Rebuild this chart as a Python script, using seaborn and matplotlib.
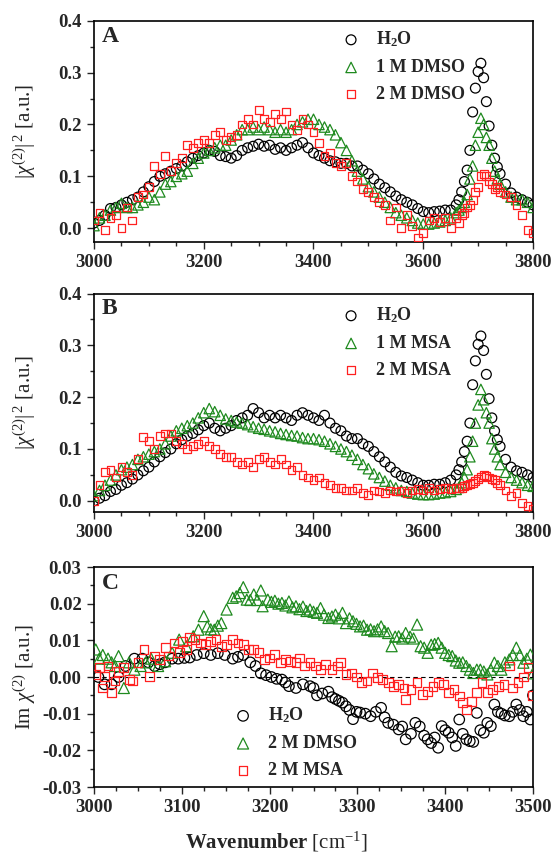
import numpy as np
import matplotlib
matplotlib.use("Agg")
import matplotlib.pyplot as plt
import seaborn as sns
from matplotlib.ticker import MultipleLocator, FormatStrFormatter

# ---------------- data: panels A and B (|chi2|^2) ----------------
wn_ab = list(range(3000, 3670, 10)) + [3665, 3670, 3675, 3680, 3685, 3690, 3695, 3700,
                                      3705, 3710, 3715, 3720, 3725, 3730, 3735, 3740,
                                      3750, 3760, 3770, 3780, 3790, 3800]

a_h2o = [0.010, 0.015, 0.025, 0.038, 0.040, 0.045, 0.050, 0.055, 0.060, 0.070,
         0.080, 0.090, 0.100, 0.105, 0.110, 0.115, 0.120, 0.128, 0.135, 0.140,
         0.145, 0.150, 0.148, 0.140, 0.138, 0.135, 0.140, 0.150, 0.155, 0.158,
         0.162, 0.158, 0.160, 0.152, 0.155, 0.150, 0.155, 0.160, 0.165, 0.155,
         0.145, 0.140, 0.135, 0.130, 0.128, 0.125, 0.125, 0.120, 0.120, 0.112,
         0.105, 0.095, 0.085, 0.078, 0.070, 0.062, 0.055, 0.050, 0.045, 0.038,
         0.032, 0.030, 0.032, 0.033, 0.035, 0.035, 0.045,
         0.055, 0.070, 0.090, 0.112, 0.150, 0.224, 0.270, 0.302, 0.318, 0.290,
         0.244, 0.197, 0.160, 0.135, 0.118, 0.105,
         0.085, 0.068, 0.060, 0.055, 0.050, 0.045]

a_dmso1 = [0.005, 0.020, 0.025, 0.035, 0.040, 0.048, 0.040, 0.040, 0.045, 0.050,
           0.060, 0.055, 0.070, 0.085, 0.090, 0.100, 0.105, 0.110, 0.125, 0.135,
           0.145, 0.150, 0.155, 0.160, 0.160, 0.170, 0.180, 0.190, 0.190, 0.195,
           0.190, 0.195, 0.190, 0.185, 0.190, 0.185, 0.190, 0.200, 0.205, 0.210,
           0.210, 0.200, 0.195, 0.190, 0.180, 0.165, 0.150, 0.130, 0.110, 0.095,
           0.080, 0.070, 0.060, 0.050, 0.040, 0.030, 0.025, 0.020, 0.015, 0.010,
           0.008, 0.008, 0.010, 0.012, 0.015, 0.020, 0.030,
           0.035, 0.040, 0.050, 0.065, 0.095, 0.120, 0.160, 0.185, 0.212, 0.200,
           0.175, 0.160, 0.135, 0.110, 0.095, 0.085,
           0.070, 0.060, 0.055, 0.055, 0.050, 0.040]

a_dmso2 = [0.015, 0.030, -0.004, 0.020, 0.025, 0.001, 0.040, 0.015, 0.060, 0.065,
           0.080, 0.120, 0.105, 0.139, 0.110, 0.125, 0.135, 0.160, 0.155, 0.165,
           0.170, 0.165, 0.180, 0.185, 0.170, 0.175, 0.180, 0.200, 0.210, 0.200,
           0.228, 0.210, 0.205, 0.220, 0.210, 0.225, 0.200, 0.190, 0.210, 0.200,
           0.185, 0.165, 0.140, 0.145, 0.125, 0.120, 0.125, 0.100, 0.090, 0.075,
           0.070, 0.060, 0.050, 0.045, 0.015, 0.040, 0.000, 0.025, 0.005, -0.018,
           -0.010, 0.015, 0.020, 0.012, 0.020, 0.000, 0.020,
           0.010, 0.025, 0.030, 0.040, 0.045, 0.055, 0.070, 0.080, 0.100, 0.105,
           0.100, 0.090, 0.085, 0.075, 0.080, 0.070,
           0.065, 0.060, 0.045, 0.026, -0.003, -0.010]

b_h2o = [0.000, 0.005, 0.010, 0.018, 0.022, 0.030, 0.035, 0.042, 0.050, 0.058,
         0.065, 0.075, 0.085, 0.093, 0.100, 0.110, 0.118, 0.125, 0.130, 0.137,
         0.145, 0.150, 0.140, 0.135, 0.140, 0.145, 0.155, 0.160, 0.165, 0.178,
         0.170, 0.160, 0.165, 0.160, 0.165, 0.160, 0.155, 0.165, 0.170, 0.165,
         0.160, 0.155, 0.165, 0.150, 0.140, 0.135, 0.125, 0.120, 0.120, 0.110,
         0.105, 0.095, 0.085, 0.075, 0.065, 0.055, 0.048, 0.045, 0.040, 0.035,
         0.030, 0.030, 0.032, 0.032, 0.035, 0.040, 0.050,
         0.060, 0.075, 0.095, 0.115, 0.150, 0.224, 0.270, 0.302, 0.318, 0.290,
         0.244, 0.197, 0.160, 0.135, 0.118, 0.105,
         0.080, 0.065, 0.058, 0.055, 0.050, 0.045]

b_msa1 = [0.010, 0.020, 0.030, 0.040, 0.050, 0.060, 0.065, 0.070, 0.080, 0.085,
          0.090, 0.095, 0.100, 0.110, 0.125, 0.135, 0.140, 0.145, 0.150, 0.160,
          0.170, 0.178, 0.172, 0.165, 0.158, 0.155, 0.152, 0.150, 0.147, 0.143,
          0.140, 0.138, 0.135, 0.133, 0.130, 0.128, 0.126, 0.125, 0.122, 0.120,
          0.120, 0.118, 0.115, 0.110, 0.105, 0.100, 0.095, 0.088, 0.080, 0.070,
          0.062, 0.052, 0.045, 0.038, 0.030, 0.025, 0.020, 0.018, 0.015, 0.013,
          0.012, 0.012, 0.013, 0.015, 0.016, 0.018, 0.022,
          0.026, 0.035, 0.045, 0.060, 0.085, 0.115, 0.150, 0.185, 0.215, 0.195,
          0.170, 0.150, 0.120, 0.100, 0.085, 0.070,
          0.055, 0.045, 0.040, 0.035, 0.030, 0.028]

b_msa2 = [0.000, 0.030, 0.055, 0.060, 0.045, 0.065, 0.055, 0.050, 0.080, 0.123,
          0.115, 0.100, 0.125, 0.130, 0.130, 0.115, 0.110, 0.100, 0.105, 0.110,
          0.115, 0.105, 0.100, 0.090, 0.085, 0.085, 0.075, 0.070, 0.075, 0.065,
          0.080, 0.085, 0.075, 0.070, 0.080, 0.070, 0.060, 0.065, 0.050, 0.045,
          0.040, 0.045, 0.035, 0.030, 0.025, 0.025, 0.020, 0.020, 0.025, 0.015,
          0.012, 0.020, 0.018, 0.015, 0.020, 0.018, 0.020, 0.015, 0.020, 0.022,
          0.020, 0.025, 0.020, 0.022, 0.025, 0.022, 0.025,
          0.025, 0.025, 0.028, 0.030, 0.032, 0.035, 0.038, 0.042, 0.046, 0.050,
          0.048, 0.045, 0.042, 0.040, 0.035, 0.030,
          0.020, 0.010, 0.015, -0.005, -0.010, -0.016]

# ---------------- data: panel C (Im chi2) ----------------
c_h2o_x = [3005, 3012, 3020, 3028, 3036, 3046, 3055, 3062, 3069, 3075, 3081, 3089, 3096,
           3103, 3109, 3117, 3125, 3133, 3141, 3149, 3158, 3164, 3170, 3178, 3184, 3190,
           3196, 3202, 3208, 3214, 3218, 3222, 3230, 3238, 3246, 3250, 3254, 3260, 3267,
           3271, 3275, 3279, 3283, 3287, 3291, 3295, 3299, 3303, 3309, 3315, 3321, 3327,
           3331, 3335, 3341, 3347, 3351, 3355, 3361, 3366, 3371, 3376, 3380, 3384, 3388,
           3392, 3396, 3400, 3404, 3408, 3412, 3416, 3420, 3424, 3428, 3432, 3436, 3440,
           3444, 3448, 3452, 3456, 3460, 3464, 3468, 3473, 3477, 3481, 3485, 3489, 3493,
           3497, 3500]
c_h2o_y = [0.0, -0.002, -0.002, 0.0, 0.003, 0.005, 0.005, 0.004, 0.003, 0.0035, 0.004, 0.005, 0.005,
           0.0052, 0.0053, 0.006, 0.0065, 0.006, 0.0065, 0.006, 0.005, 0.0055, 0.006, 0.004, 0.003, 0.001,
           0.0005, 0.0, -0.0005, -0.0007, -0.0015, -0.0025, -0.003, -0.002, -0.0025, -0.003, -0.005, -0.0045, -0.004,
           -0.0055, -0.006, -0.0065, -0.007, -0.008, -0.009, -0.0115, -0.0095, -0.0097, -0.010, -0.0107, -0.0095, -0.0084,
           -0.011, -0.0125, -0.013, -0.0143, -0.0135, -0.017, -0.0155, -0.0125, -0.0135, -0.016, -0.017, -0.018, -0.0165,
           -0.0193, -0.0134, -0.0145, -0.0152, -0.0165, -0.0188, -0.0116, -0.0155, -0.017, -0.0175, -0.0177, -0.0098, -0.0145,
           -0.0152, -0.0125, -0.0134, -0.0075, -0.0095, -0.010, -0.0105, -0.0107, -0.0095, -0.0075, -0.009, -0.0107, -0.0095,
           -0.0116, -0.005]

c_dmso_x = [3002, 3006, 3010, 3016, 3020, 3024, 3028, 3034, 3040, 3046, 3053, 3059, 3065,
            3073, 3081, 3089, 3097, 3105, 3113, 3119, 3125, 3129, 3133, 3137, 3141, 3145,
            3151, 3158, 3162, 3166, 3170, 3174, 3178, 3182, 3186, 3190, 3192, 3198, 3202,
            3206, 3210, 3214, 3218, 3222, 3226, 3230, 3234, 3238, 3242, 3246, 3250, 3254,
            3258, 3262, 3267, 3271, 3275, 3279, 3283, 3287, 3291, 3295, 3299, 3303, 3307,
            3311, 3315, 3319, 3323, 3327, 3331, 3335, 3339, 3343, 3347, 3351, 3355, 3360,
            3364, 3368, 3372, 3376, 3380, 3384, 3388, 3392, 3396, 3400, 3404, 3408, 3412,
            3416, 3420, 3424, 3428, 3432, 3436, 3440, 3444, 3448, 3452, 3456, 3460, 3464,
            3468, 3473, 3477, 3481, 3485, 3489, 3493, 3497, 3500]
c_dmso_y = [0.0075, 0.005, 0.006, 0.005, 0.004, 0.003, 0.0057, -0.003, 0.004, 0.002, 0.003, 0.004, 0.005,
            0.003, 0.0043, 0.0066, 0.0102, 0.0084, 0.0111, 0.0129, 0.0166, 0.0138, 0.013, 0.0129, 0.014, 0.0147,
            0.0184, 0.0216, 0.022, 0.0229, 0.0245, 0.0211, 0.021, 0.0225, 0.021, 0.0236, 0.0193, 0.0211, 0.0205,
            0.0208, 0.020, 0.0202, 0.0195, 0.0206, 0.019, 0.0193, 0.0185, 0.0192, 0.018, 0.0184, 0.0178, 0.0175,
            0.0188, 0.017, 0.0161, 0.0165, 0.017, 0.016, 0.0175, 0.0147, 0.016, 0.0152, 0.0145, 0.0138, 0.014,
            0.0129, 0.013, 0.0125, 0.013, 0.0138, 0.0125, 0.012, 0.0084, 0.011, 0.0111, 0.0105, 0.012, 0.011,
            0.0105, 0.0143, 0.0084, 0.008, 0.0066, 0.0088, 0.009, 0.0093, 0.008, 0.0066, 0.006, 0.0057, 0.0045,
            0.0039, 0.004, 0.003, 0.002, 0.0011, 0.002, 0.002, 0.0015, 0.0007, 0.002, 0.0039, 0.003, 0.002,
            0.004, 0.0048, 0.006, 0.008, 0.006, 0.0039, 0.005, 0.0061, 0.001]

c_msa_x = [3002, 3006, 3010, 3012, 3016, 3020, 3024, 3028, 3034, 3040, 3044, 3050, 3057,
           3063, 3069, 3075, 3081, 3085, 3091, 3097, 3101, 3105, 3109, 3115, 3121, 3127,
           3133, 3139, 3145, 3151, 3158, 3164, 3170, 3176, 3182, 3188, 3194, 3200, 3206,
           3212, 3218, 3224, 3230, 3234, 3240, 3246, 3252, 3258, 3264, 3271, 3277, 3281,
           3287, 3293, 3299, 3305, 3311, 3317, 3323, 3329, 3335, 3341, 3347, 3353, 3355,
           3361, 3368, 3374, 3380, 3386, 3392, 3398, 3404, 3410, 3416, 3420, 3424, 3430,
           3436, 3442, 3448, 3454, 3461, 3467, 3473, 3477, 3483, 3489, 3495, 3499]
c_msa_y = [0.0007, 0.0025, -0.003, 0.0002, 0.003, -0.0043, -0.0011, 0.0016, 0.0025, -0.0007, -0.0011, 0.0039, 0.0075,
           0.0002, 0.0057, 0.0048, 0.008, 0.0057, 0.0093, 0.0066, 0.0097, 0.0075, 0.0107, 0.0102, 0.0093, 0.0088,
           0.0097, 0.0102, 0.0084, 0.0088, 0.0102, 0.0093, 0.0088, 0.0075, 0.0075, 0.0066, 0.0048, 0.0052, 0.0061,
           0.0039, 0.0048, 0.0043, 0.0039, 0.0052, 0.003, 0.0039, 0.003, 0.002, 0.0034, 0.002, 0.003, 0.0039,
           0.0007, 0.0011, 0.0, -0.0016, -0.0011, 0.0011, -0.0002, -0.0007, -0.0016, -0.0025, -0.002, -0.003, -0.0061,
           -0.0034, -0.0016, -0.0048, -0.0039, -0.0025, -0.0016, -0.002, -0.0043, -0.0034, -0.0052, -0.007, -0.0088, -0.0066,
           -0.0043, -0.0016, -0.0043, -0.0034, -0.0025, -0.002, 0.003, -0.003, -0.0016, 0.0, 0.0025, -0.005]

labels_a = [r"H$_\mathbf{2}$O", "1 M DMSO", "2 M DMSO"]
labels_b = [r"H$_\mathbf{2}$O", "1 M MSA", "2 M MSA"]
labels_c = [r"H$_\mathbf{2}$O", "2 M DMSO", "2 M MSA"]

# ---------------- style ----------------
sns.set_style("ticks")
plt.rcParams["font.family"] = ["Liberation Serif", "DejaVu Serif"]
plt.rcParams["mathtext.fontset"] = "custom"
plt.rcParams["mathtext.rm"] = "Liberation Serif"
plt.rcParams["mathtext.it"] = "Liberation Serif:italic"
plt.rcParams["mathtext.bf"] = "Liberation Serif:bold"
plt.rcParams["axes.unicode_minus"] = False

BLACK, GREEN, RED = "black", "#1f8a1f", "#ff2020"
TICK_FS = 13.5

fig = plt.figure(figsize=(5.53, 8.55), dpi=100)
W, H = 553.0, 855.0
def box(top, bottom):
    return [94 / W, 1 - bottom / H, 439 / W, (bottom - top) / H]

axA = fig.add_axes(box(20.7, 241.7))
axB = fig.add_axes(box(293.5, 511.7))
axC = fig.add_axes(box(567.0, 787.0))


def pts(ax, x, y, marker, color, s, label, lw=0.9):
    sns.scatterplot(x=x, y=y, ax=ax, marker=marker, s=s, facecolors="none",
                    edgecolor=color, linewidth=lw, label=label, legend=False, zorder=3)


def style_axis(ax, xmaj, xmin, ymaj, ymin, yfmt):
    ax.xaxis.set_major_locator(MultipleLocator(xmaj))
    ax.xaxis.set_minor_locator(MultipleLocator(xmin))
    ax.yaxis.set_major_locator(MultipleLocator(ymaj))
    ax.yaxis.set_minor_locator(MultipleLocator(ymin))
    ax.yaxis.set_major_formatter(FormatStrFormatter(yfmt))
    ax.tick_params(which="both", direction="out", top=False, right=False, width=1.0)
    ax.tick_params(which="major", length=5, labelsize=TICK_FS)
    ax.tick_params(which="minor", length=3)
    ax.tick_params(axis="y", pad=4)
    ax.tick_params(axis="x", pad=3.5)
    for lab in ax.get_xticklabels() + ax.get_yticklabels():
        lab.set_fontweight("bold")
    for sp in ax.spines.values():
        sp.set_visible(True)
        sp.set_linewidth(1.2)
        sp.set_color("black")
    ax.set_xlabel("")


def set_ylab(ax, text, top, bottom):
    ax.set_ylabel(text, fontsize=15)
    ax.yaxis.label.set_va("center")
    ax.yaxis.set_label_coords(25 / W, 1 - (top + bottom) / 2 / H, transform=fig.transFigure)


def legend(ax, x0, y0):
    ax.legend(loc="upper left", bbox_to_anchor=(x0, y0), frameon=False,
              handlelength=1.0, handletextpad=0.9, labelspacing=0.55,
              borderpad=0, borderaxespad=0, scatterpoints=1,
              prop={"family": "Liberation Serif", "weight": "bold", "size": 13})


# Panel A
pts(axA, wn_ab, a_h2o, "o", BLACK, 50, labels_a[0])
pts(axA, wn_ab, a_dmso1, "^", GREEN, 56, labels_a[1])
pts(axA, wn_ab, a_dmso2, "s", RED, 32, labels_a[2])
axA.set_xlim(3000, 3800)
axA.set_ylim(-0.026, 0.4)
style_axis(axA, 200, 50, 0.1, 0.05, "%.1f")
set_ylab(axA, r"$|\chi^{(2)}|^{\,2}$ [a.u.]", 20.7, 241.7)
axA.text(0.018, 0.93, "A", transform=axA.transAxes, fontsize=17, fontweight="bold",
         ha="left", va="center")
legend(axA, 0.565, 0.96)

# Panel B
pts(axB, wn_ab, b_h2o, "o", BLACK, 50, labels_b[0])
pts(axB, wn_ab, b_msa1, "^", GREEN, 56, labels_b[1])
pts(axB, wn_ab, b_msa2, "s", RED, 32, labels_b[2])
axB.set_xlim(3000, 3800)
axB.set_ylim(-0.021, 0.4)
style_axis(axB, 200, 50, 0.1, 0.05, "%.1f")
set_ylab(axB, r"$|\chi^{(2)}|^{\,2}$ [a.u.]", 293.5, 511.7)
axB.text(0.018, 0.93, "B", transform=axB.transAxes, fontsize=17, fontweight="bold",
         ha="left", va="center")
legend(axB, 0.565, 0.945)

# Panel C
axC.axhline(0, color="black", lw=0.8, ls=(0, (4, 3)), zorder=1)
pts(axC, c_h2o_x, c_h2o_y, "o", BLACK, 57, labels_c[0])
pts(axC, c_dmso_x, c_dmso_y, "^", GREEN, 63, labels_c[1])
pts(axC, c_msa_x, c_msa_y, "s", RED, 40, labels_c[2])
axC.set_xlim(3000, 3500)
axC.set_ylim(-0.03, 0.03)
style_axis(axC, 100, 25, 0.01, 0.005, "%.2f")
set_ylab(axC, r"Im $\chi^{(2)}$ [a.u.]", 567.0, 787.0)
axC.text(0.018, 0.925, "C", transform=axC.transAxes, fontsize=17, fontweight="bold",
         ha="left", va="center")
legend(axC, 0.319, 0.37)
axC.set_xlabel(r"$\mathbf{Wavenumber}$ [cm$^{-1}$]", fontsize=15)
axC.xaxis.label.set_va("baseline")
axC.xaxis.set_label_coords(0.5, 1 - 848.5 / H, transform=fig.transFigure)

fig.savefig("out.png", dpi=100)
